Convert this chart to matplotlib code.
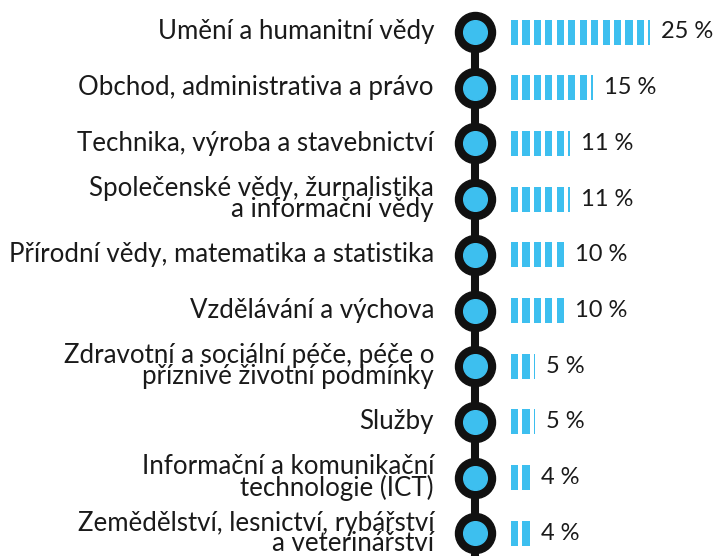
import numpy as np
import matplotlib
matplotlib.use('Agg')
import matplotlib.pyplot as plt

# Data
categories = [
    'Umění a humanitní vědy',
    'Obchod, administrativa a právo',
    'Technika, výroba a stavebnictví',
    'Společenské vědy, žurnalistika\na informační vědy',
    'Přírodní vědy, matematika a statistika',
    'Vzdělávání a výchova',
    'Zdravotní a sociální péče, péče o\npříznivé životní podmínky',
    'Služby',
    'Informační a komunikační\ntechnologie (ICT)',
    'Zemědělství, lesnictví, rybářství\na veterinářství',
]
values = [25, 15, 11, 11, 10, 10, 5, 5, 4, 4]
labels = ['25 %', '15 %', '11 %', '11 %', '10 %', '10 %', '5 %', '5 %', '4 %', '4 %']

# Layout (pixels -> data units)
W, H = 715, 556
px_per_pct = 5.72
x0_px = 511
row0_px = 32
row_px = 55.7
blue = '#3dbfef'
text_color = '#1a1a1a'
step = 2.0          # one stripe = 2 %
gap = 0.75          # white gap between stripes, in %

plt.rcParams['font.family'] = ['Lato', 'DejaVu Sans']

fig = plt.figure(figsize=(W / 100, H / 100), dpi=100)
ax = fig.add_axes([0, 0, 1, 1])
ax.set_xlim(-x0_px / px_per_pct, (W - x0_px) / px_per_pct)
ax.set_ylim((H - row0_px) / row_px, -row0_px / row_px)
ax.axis('off')

y = np.arange(len(categories))
circle_x = (475 - x0_px) / px_per_pct
text_x = (434 - x0_px) / px_per_pct

# connector line
ax.plot([circle_x, circle_x], [0, len(categories)], color='#111111', lw=5.8,
        solid_capstyle='butt', zorder=1)
ax.scatter(np.full(len(y), circle_x), y, s=830, color='#111111', zorder=2)
ax.scatter(np.full(len(y), circle_x), y, s=290, color=blue, zorder=3)

bar_h = 25 / row_px
for i, v in enumerate(values):
    starts = np.arange(0, v, step)
    widths = np.minimum(step, v - starts) - gap
    ax.barh(np.full(len(starts), i), widths, left=starts, height=bar_h,
            color=blue, align='center', zorder=2)
    ax.text(v + 1.2, i, labels[i], ha='left', va='center', fontsize=17,
            color=text_color)
    ax.text(text_x, i, categories[i], ha='right', va='center', fontsize=18.6,
            color=text_color, linespacing=0.78, multialignment='right')

fig.savefig('out.png', dpi=100)
